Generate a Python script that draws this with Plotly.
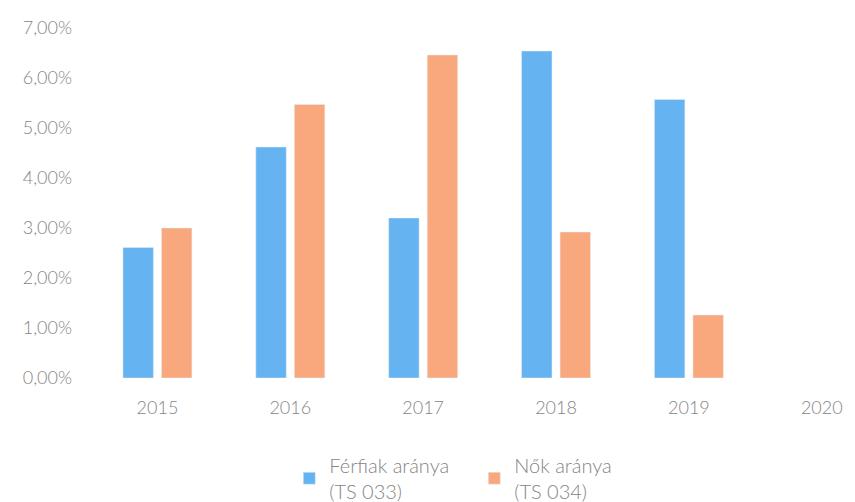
import plotly.graph_objects as go

years = ["2015", "2016", "2017", "2018", "2019", "2020"]
ferfiak = [0.0261, 0.0462, 0.0320, 0.0654, 0.0557, None]
nok = [0.0300, 0.0547, 0.0646, 0.0292, 0.0126, None]
y_ticks = [0, 0.01, 0.02, 0.03, 0.04, 0.05, 0.06, 0.07]

font_family = "Lato, Open Sans, sans-serif"
tick_color = "#858585"

fig = go.Figure()
fig.add_trace(go.Bar(x=years, y=ferfiak, name="Férfiak aránya<br>(TS 033)",
                     marker_color="#66B3F2"))
fig.add_trace(go.Bar(x=years, y=nok, name="Nők aránya<br>(TS 034)",
                     marker_color="#F9A77C"))

fig.update_layout(
    width=855, height=502,
    margin=dict(l=83, r=8, t=16, b=132),
    plot_bgcolor="white", paper_bgcolor="white",
    separators=",.",
    barmode="group", bargap=0.42, bargroupgap=0.21,
    font=dict(family=font_family, size=18, color=tick_color, weight=300),
    showlegend=True,
    legend=dict(orientation="h", xref="container", x=0.329, xanchor="left",
                yref="container", y=0.128, yanchor="top",
                font=dict(size=20, color=tick_color, weight=300), itemwidth=30,
                entrywidth=140, entrywidthmode="pixels",
                traceorder="normal"),
)
fig.update_xaxes(type="category", range=[-0.5, 5.25], showgrid=False,
                 showline=False, ticks="", ticklabelstandoff=17,
                 tickfont=dict(size=18, color=tick_color, weight=300))
fig.update_yaxes(range=[0, 0.07], tickvals=y_ticks, tickformat=".2%",
                 showgrid=False, showline=False, zeroline=False, ticks="",
                 ticklabelstandoff=18,
                 tickfont=dict(size=18, color=tick_color, weight=300))

fig.write_html("out.html")
